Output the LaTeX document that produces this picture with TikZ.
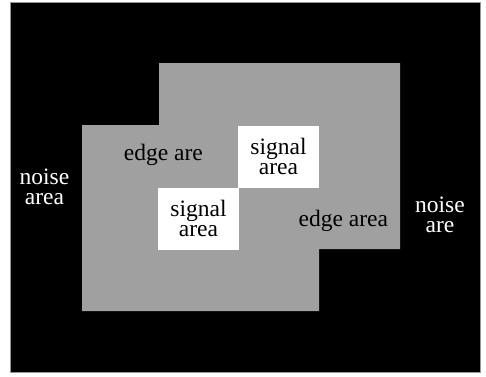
\documentclass[tikz,border=0pt]{standalone}
\usepackage{fontspec}
\setmainfont{Liberation Serif}
\definecolor{edgegray}{RGB}{160,160,160}
\definecolor{framegray}{RGB}{150,150,150}
\begin{document}
\begin{tikzpicture}[x=1pt,y=1pt,
  lbl/.style={font=\fontsize{23.5}{20}\selectfont, inner sep=0pt, align=center},
  sigbox/.style={lbl, fill=white, draw=none, minimum width=80.5pt, minimum height=62pt, anchor=center}]
\useasboundingbox (0,0) rectangle (486,376);
% noise background
\draw[fill=black, draw=framegray, line width=0.8pt] (10.5,3.5) rectangle (480.5,373.5);
% edge region
\fill[edgegray] (82,251) -- (159,251) -- (159,313) -- (400,313) -- (400,127)
  -- (319,127) -- (319,65) -- (82,65) -- cycle;
% signal areas
\node[sigbox] (sig1) at (278.5,219.5) {signal\\area};
\node[sigbox] (sig2) at (198.5,157.5) {signal\\area};
% labels
\node[lbl, anchor=base] (edgeA) at (163.3,216) {edge are};
\node[lbl, anchor=base] (edgeB) at (343.3,149.3) {edge area};
\node[lbl, text=white] (noiseL) at (44.5,188.7) {noise\\area};
\node[lbl, text=white] (noiseR) at (440,160.8) {noise\\are};
\end{tikzpicture}
\end{document}
